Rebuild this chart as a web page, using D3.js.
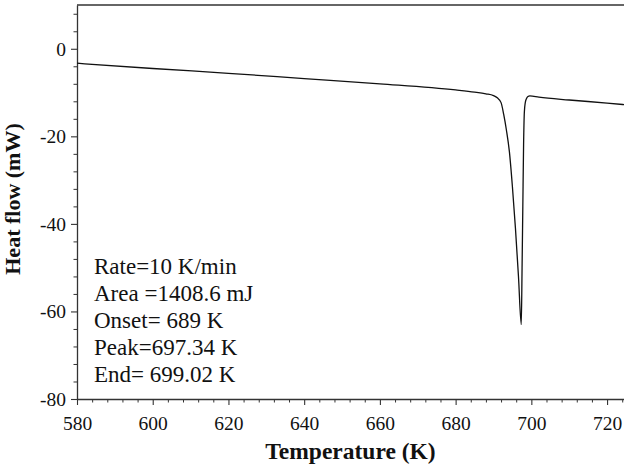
<!DOCTYPE html>
<html>
<head>
<meta charset="utf-8">
<script src="https://cdn.jsdelivr.net/npm/d3@7/dist/d3.min.js"></script>
<style>
  html, body { margin: 0; padding: 0; background: #fff; }
  svg { display: block; }
  text { font-family: "Liberation Serif", "Times New Roman", serif; fill: #111; }
</style>
</head>
<body>
<svg id="chart" width="624" height="468"></svg>
<script>
// ---- data ----
const temperature = [580, 600, 620, 640, 660, 680, 685, 688, 690, 691, 692, 692.7, 693.4, 694.2, 695, 695.8, 696.6, 697.34, 697.55, 697.75, 697.95, 698.15, 698.4, 698.7, 699.1, 699.6, 702, 710, 720, 725];
const heatFlow    = [-3.3, -4.5, -5.6, -6.8, -8.0, -9.4, -9.9, -10.3, -10.7, -11.2, -12.3, -15.0, -18.5, -23.5, -31.5, -41, -52, -63, -50, -36, -22, -14.5, -12.3, -11.4, -10.9, -10.75, -11.05, -11.7, -12.4, -12.8];
const xMajorTicks = [580, 600, 620, 640, 660, 680, 700, 720];
const yMajorTicks = [-80, -60, -40, -20, 0];
const xTitle = "Temperature (K)";
const yTitle = "Heat flow (mW)";
const annotations = ["Rate=10 K/min", "Area =1408.6 mJ", "Onset= 689 K", "Peak=697.34 K", "End= 699.02 K"];

// ---- layout ----
const mLeft = 77, mRight = 626, mTop = 5, mBottom = 399;
const svg = d3.select("#chart");

const x = d3.scaleLinear().domain([580, 725]).range([mLeft, mRight]);
const y = d3.scaleLinear().domain([-80, 10]).range([mBottom, mTop]);

const xMinor = d3.range(580, 726, 4).filter(v => !xMajorTicks.includes(v));
const yMinor = d3.range(-80, 11, 4).filter(v => !yMajorTicks.includes(v));

const axisColor = "#333";
const fmt = d => String(d);

// minor ticks
svg.append("g").attr("transform", `translate(0,${mBottom})`)
  .call(d3.axisBottom(x).tickValues(xMinor).tickSize(3.5).tickSizeOuter(0).tickFormat(""))
  .call(g => g.select(".domain").remove())
  .call(g => g.selectAll("line").attr("stroke", axisColor).attr("stroke-width", 1));
svg.append("g").attr("transform", `translate(${mLeft},0)`)
  .call(d3.axisLeft(y).tickValues(yMinor).tickSize(3.5).tickSizeOuter(0).tickFormat(""))
  .call(g => g.select(".domain").remove())
  .call(g => g.selectAll("line").attr("stroke", axisColor).attr("stroke-width", 1));

// major axes
const xAxis = svg.append("g").attr("transform", `translate(0,${mBottom})`)
  .attr("font-family", "Liberation Serif")
  .call(d3.axisBottom(x).tickValues(xMajorTicks).tickSize(6).tickSizeOuter(0).tickPadding(11).tickFormat(fmt));
xAxis.attr("font-family", "Liberation Serif");
xAxis.select(".domain").attr("stroke", axisColor).attr("stroke-width", 1.3);
xAxis.selectAll(".tick line").attr("stroke", axisColor).attr("stroke-width", 1.1);
xAxis.selectAll("text").style("font-family", "'Liberation Serif', serif").attr("font-size", 19.5).attr("fill", "#111");

const yAxis = svg.append("g").attr("transform", `translate(${mLeft},0)`)
  .call(d3.axisLeft(y).tickValues(yMajorTicks).tickSize(6).tickSizeOuter(0).tickPadding(5).tickFormat(fmt));
yAxis.attr("font-family", "Liberation Serif");
yAxis.select(".domain").attr("stroke", axisColor).attr("stroke-width", 1.3);
yAxis.selectAll(".tick line").attr("stroke", axisColor).attr("stroke-width", 1.1);
yAxis.selectAll("text").style("font-family", "'Liberation Serif', serif").attr("font-size", 19.5).attr("fill", "#111");

// top frame line
svg.append("line").attr("x1", mLeft).attr("x2", mRight).attr("y1", mTop).attr("y2", mTop)
  .attr("stroke", axisColor).attr("stroke-width", 1.3);

// curve
const line = d3.line()
  .x((d, i) => x(temperature[i]))
  .y(d => y(d))
  .curve(d3.curveMonotoneX);
svg.append("path")
  .datum(heatFlow)
  .attr("d", line)
  .attr("fill", "none")
  .attr("stroke", "#111")
  .attr("stroke-width", 1.3)
  .attr("stroke-linejoin", "round");

// annotations
svg.append("g").selectAll("text").data(annotations).join("text")
  .attr("x", 94)
  .attr("y", (d, i) => 274 + i * 26.9)
  .attr("font-size", 23)
  .text(d => d);

// axis titles
svg.append("text")
  .attr("x", (mLeft + 624) / 2)
  .attr("y", 459)
  .attr("text-anchor", "middle")
  .attr("font-weight", "bold")
  .attr("font-size", 23.5)
  .text(xTitle);

svg.append("text")
  .attr("transform", `translate(20,${(mTop + mBottom) / 2 - 3}) rotate(-90)`)
  .attr("text-anchor", "middle")
  .attr("font-weight", "bold")
  .attr("font-size", 22)
  .text(yTitle);
</script>
</body>
</html>
